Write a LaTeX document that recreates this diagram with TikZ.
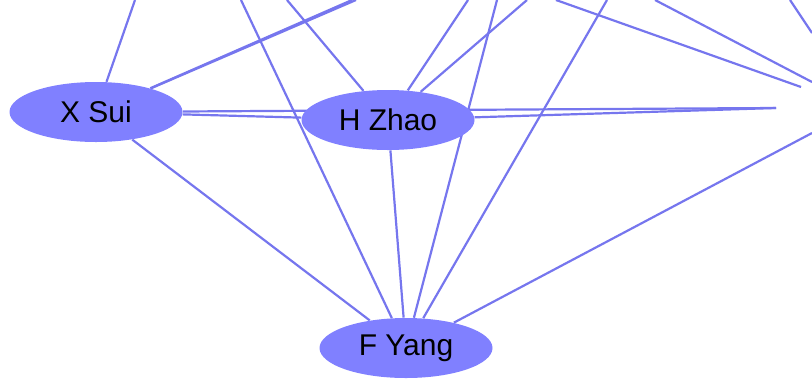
\documentclass[tikz,border=0pt]{standalone}
\usepackage{fontspec}
\setmainfont{Liberation Sans}
\usepackage{tikz}
\usetikzlibrary{positioning,shapes.geometric,backgrounds}
\definecolor{nodeblue}{RGB}{128,128,255}
\definecolor{edgeblue}{RGB}{118,118,238}
\tikzset{main node/.style={ellipse,fill=nodeblue,minimum width=86.5pt,minimum height=30pt,inner sep=0pt,font=\fontsize{15}{18}\selectfont},
	main edge/.style={draw,edgeblue,line width=1.1pt},}

\begin{document}
\begin{tikzpicture}[x=0.5pt,y=-0.5pt]
	\useasboundingbox (0,0) rectangle (812,381);
	\node[main node] (1) at (96,112) {X Sui};
	\node[main node] (2) at (388,120) {H Zhao};
	\node[main node] (3) at (406,348) {F Yang};

	% free ends, top border
	\coordinate (t1) at (135,0);
	\coordinate (t2) at (352,0);
	\coordinate (t3) at (356,0);
	\coordinate (t4) at (241,0);
	\coordinate (t5) at (287,0);
	\coordinate (t6) at (468,0);
	\coordinate (t7) at (527,0);
	\coordinate (t8) at (497,0);
	\coordinate (t9) at (607,0);
	\coordinate (t10) at (556,0);
	\coordinate (t11) at (655,0);
	\coordinate (t12) at (790,0);
	% free ends, right side
	\coordinate (r1) at (812,33);
	\coordinate (r2) at (801,87);
	\coordinate (r3) at (812,82);
	\coordinate (r4) at (776,108);
	\coordinate (r5) at (812,133);

	\begin{scope}[on background layer]
	\path[main edge]
	(1) edge (t1)
	(1) edge (t2)
	(1) edge (t3)
	(1) edge (2)
	(1) edge (r4)
	(1) edge (3)
	(2) edge (t5)
	(2) edge (t6)
	(2) edge (t7)
	(2) edge (r4)
	(2) edge (3)
	(3) edge (t4)
	(3) edge (t8)
	(3) edge (t9)
	(3) edge (r5)
	(t10) edge (r2)
	(t11) edge (r3)
	(t12) edge (r1)
	;
	\end{scope}
\end{tikzpicture}
\end{document}
